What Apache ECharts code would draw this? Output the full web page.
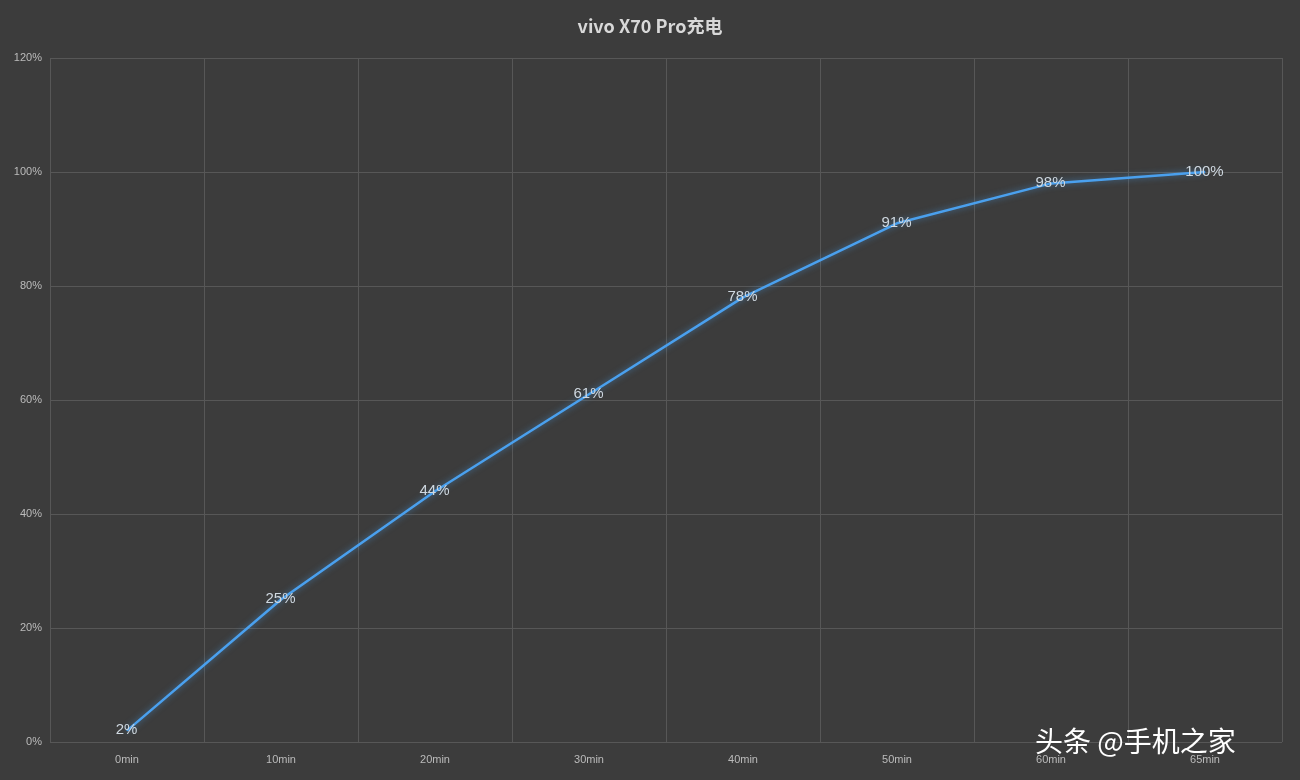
<!DOCTYPE html>
<html><head><meta charset="utf-8">
<script src="https://cdn.jsdelivr.net/npm/echarts@6/dist/echarts.min.js"></script>
<style>html,body{margin:0;padding:0;background:#3c3c3c;}#c{width:1300px;height:780px;}</style>
</head><body><div id="c"></div>
<script>
const categories = ['0min','10min','20min','30min','40min','50min','60min','65min'];
const values = [2,25,44,61,78,91,98,100];
const yTicks = [0,20,40,60,80,100,120];
const chart = echarts.init(document.getElementById('c'));
chart.setOption({
  backgroundColor:'#3c3c3c',
  animation:false,
  title:{text:'vivo X70 Pro充电',left:'center',top:12,textStyle:{color:'#d8d8d8',fontSize:18,fontWeight:'bold',fontFamily:'Noto Sans CJK SC'}},
  grid:{left:50,right:18,top:58,bottom:38},
  xAxis:{type:'category',data:categories,boundaryGap:true,
    axisLine:{show:false},axisTick:{show:false},
    axisLabel:{color:'#bbbbbb',fontSize:11,margin:12},
    splitLine:{show:true,interval:0,lineStyle:{color:'#575757'}}},
  yAxis:{type:'value',min:yTicks[0],max:yTicks[yTicks.length-1],interval:20,
    axisLine:{show:false},axisTick:{show:false},
    axisLabel:{color:'#bbbbbb',fontSize:11,formatter:'{value}%',align:'right',margin:8},
    splitLine:{lineStyle:{color:'#575757'}}},
  series:[{type:'line',data:values,symbol:'circle',symbolSize:1,showSymbol:true,
    itemStyle:{color:'#4aa0ee'},
    lineStyle:{color:'#4aa0ee',width:2.5,shadowColor:'rgba(74,160,238,0.6)',shadowBlur:6},
    label:{show:true,position:[0,0],align:'center',verticalAlign:'middle',formatter:'{c}%',color:'#cfd8e0',fontSize:15}}]
});
</script>
<div style="position:absolute;left:1035px;top:720px;color:#fff;font-family:'Noto Sans CJK SC';font-size:28px;">头条 @手机之家</div>
</body></html>
